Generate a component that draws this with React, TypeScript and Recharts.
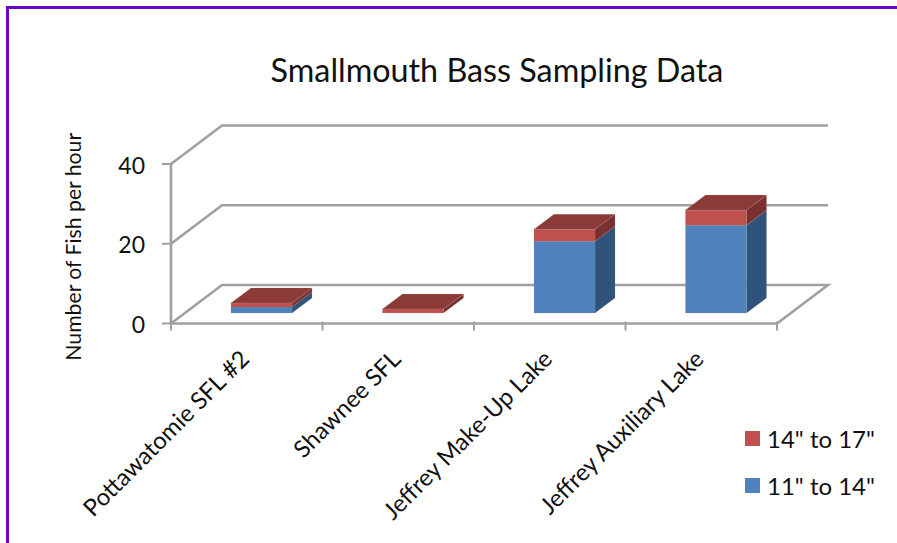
import React from 'react';
import { BarChart, Bar, XAxis, YAxis, CartesianGrid, Legend, Label } from 'recharts';

const lakes = ['Pottawatomie SFL #2', 'Shawnee SFL', 'Jeffrey Make-Up Lake', 'Jeffrey Auxiliary Lake'];
const size11to14 = [1.5, 0, 18, 22];
const size14to17 = [1, 1, 3, 3.8];
const yTicks = [0, 20, 40];

const data = lakes.map((lake, i) => ({ lake, a: size11to14[i], b: size14to17[i] }));

const FONT = 'Lato, sans-serif';
const GRID = '#a0a0a0';
const BAND = 606 / lakes.length;

// bars sit a little back from the front edge of the floor
const BAR_DX = 15;
const BAR_DY = -10.5;
const DEPTH_X = 20;
const DEPTH_Y = -15;

function Box3D(props: any) {
  const { x, y, width, height, fill, sideFill, topFill } = props;
  if (!height) return null;
  const l = x + BAR_DX;
  const r = l + width;
  const t = y + BAR_DY;
  const b = t + height;
  return (
    <g stroke="rgba(150,150,150,0.35)" strokeWidth={0.6}>
      <polygon points={`${r},${t} ${r + DEPTH_X},${t + DEPTH_Y} ${r + DEPTH_X},${b + DEPTH_Y} ${r},${b}`} fill={sideFill} />
      {topFill && (
        <polygon points={`${l},${t} ${l + DEPTH_X},${t + DEPTH_Y} ${r + DEPTH_X},${t + DEPTH_Y} ${r},${t}`} fill={topFill} />
      )}
      <rect x={l} y={t} width={width} height={height} fill={fill} />
    </g>
  );
}

function WallLine(props: any) {
  const { x1, x2, y1 } = props;
  const bx = 51;
  const by = -38.5;
  const pts = `${x1},${y1} ${x1 + bx},${y1 + by} ${x2 + bx},${y1 + by}` + (y1 > 300 ? ` ${x2},${y1}` : '');
  return <polyline points={pts} fill="none" stroke={GRID} strokeWidth={2.6} />;
}

function LakeTick(props: any) {
  const { x, y, index, payload } = props;
  const left = x - BAND / 2;
  return (
    <g>
      <line x1={left} x2={left} y1={y - 10} y2={y - 1} stroke={GRID} strokeWidth={2} />
      {index === lakes.length - 1 && <line x1={left + BAND} x2={left + BAND} y1={y - 10} y2={y - 1} stroke={GRID} strokeWidth={2} />}
      <text transform={`translate(${x + 4},${y + 29}) rotate(-45)`} textAnchor="end" fontFamily={FONT} fontSize={23.8} fill="#111">
        {payload.value}
      </text>
    </g>
  );
}

function SizeLegend({ payload }: any) {
  const items = [...(payload || [])].reverse();
  return (
    <div>
      {items.map((it: any) => (
        <div key={it.value} style={{ display: 'flex', alignItems: 'center', height: 47, fontFamily: FONT, fontSize: 24, color: '#111', whiteSpace: 'nowrap' }}>
          <span style={{ width: 15, height: 15, background: it.color, marginRight: 7 }} />
          {it.value}
        </div>
      ))}
    </div>
  );
}

export default function App() {
  return (
    <div style={{ position: 'absolute', left: 0, top: 0, width: 897, height: 543, background: '#fff', overflow: 'hidden' }}>
      <div style={{ position: 'absolute', left: 6, top: 6, width: 900, height: 600, borderTop: '3px solid #6a05c8', borderLeft: '3px solid #6a05c8' }} />
      <BarChart
        width={897}
        height={543}
        data={data}
        margin={{ top: 164, right: 120, bottom: 9.5, left: 111 }}
        style={{ position: 'absolute', left: 0, top: 0 }}
      >
        <CartesianGrid vertical={false} horizontal={(p: any) => <WallLine key={p.index} {...p} />} />
        <XAxis
          dataKey="lake"
          height={210}
          interval={0}
          axisLine={{ stroke: GRID, strokeWidth: 2.6 }}
          tickLine={false}
          tick={<LakeTick />}
        />
        <YAxis
          width={60}
          domain={[0, 40]}
          ticks={yTicks}
          axisLine={{ stroke: GRID, strokeWidth: 2.6 }}
          tickLine={{ stroke: GRID, strokeWidth: 2 }}
          tickSize={9}
          tickMargin={17}
          tick={{ fontFamily: FONT, fontSize: 23, fill: '#111', dy: 1.5 }}
        >
          <Label
            value="Number of Fish per hour"
            angle={-90}
            position="insideLeft"
            dx={-43}
            dy={3}
            style={{ fontFamily: FONT, fontSize: 21.2, fill: '#111', textAnchor: 'middle' }}
          />
        </YAxis>
        <Legend
          content={<SizeLegend />}
          layout="vertical"
          align="center"
          verticalAlign="middle"
          wrapperStyle={{ position: 'absolute', left: 745, top: 415, width: 150 }}
        />
        <Bar
          dataKey="a"
          name={'11" to 14"'}
          stackId="s"
          barSize={61}
          fill="#4f81bd"
          isAnimationActive={false}
          shape={(p: any) => <Box3D {...p} sideFill="#30537c" />}
        />
        <Bar
          dataKey="b"
          name={'14" to 17"'}
          stackId="s"
          barSize={61}
          fill="#c0504d"
          isAnimationActive={false}
          shape={(p: any) => <Box3D {...p} sideFill="#7a302e" topFill="#8c3a38" />}
        />
        <text x={497} y={82} textAnchor="middle" fontFamily={FONT} fontSize={32.3} fill="#111">
          Smallmouth Bass Sampling Data
        </text>
      </BarChart>
    </div>
  );
}
